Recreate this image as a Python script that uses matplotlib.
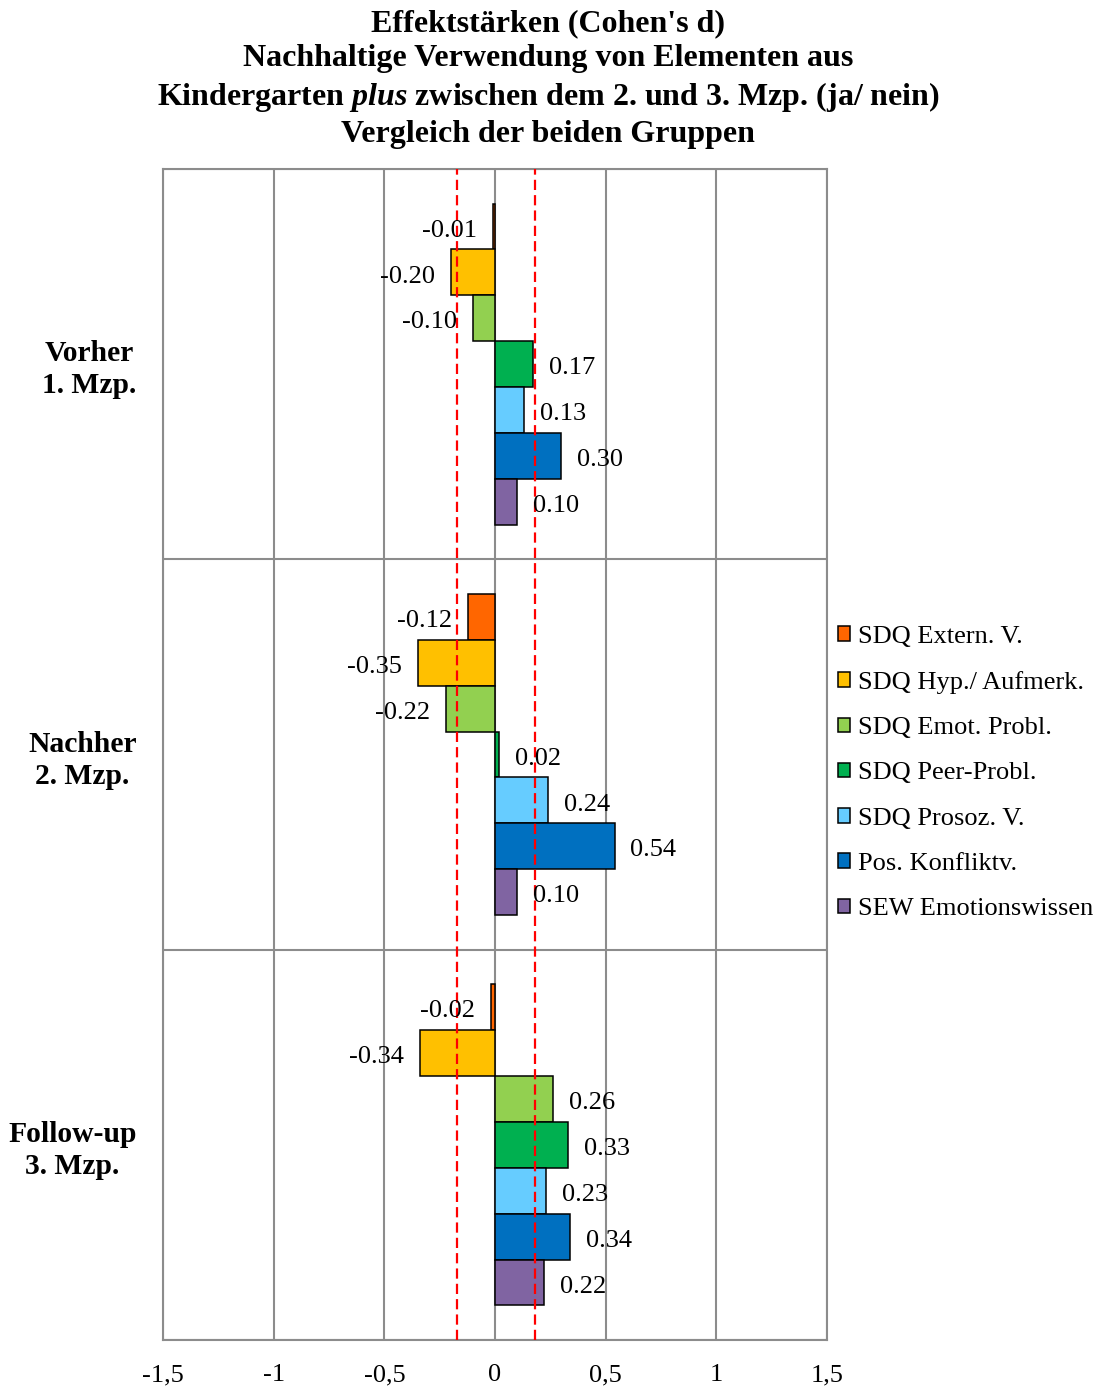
import matplotlib
matplotlib.use("Agg")
import matplotlib.pyplot as plt
from matplotlib.patches import Patch
import numpy as np

plt.rcParams['font.family'] = ['Liberation Serif', 'DejaVu Serif']
plt.rcParams['mathtext.fontset'] = 'custom'
plt.rcParams['mathtext.it'] = 'Liberation Serif:italic:bold'
plt.rcParams['mathtext.rm'] = 'Liberation Serif:bold'

# Measurement points (top to bottom)
groups = ["Vorher\n1. Mzp.", "Nachher\n2. Mzp.", "Follow-up\n3. Mzp."]

# Scales (series order as in the legend)
series_names = [
    "SDQ Extern. V.",
    "SDQ Hyp./ Aufmerk.",
    "SDQ Emot. Probl.",
    "SDQ Peer-Probl.",
    "SDQ Prosoz. V.",
    "Pos. Konfliktv.",
    "SEW Emotionswissen",
]
series_colors = ["#FF6600", "#FFC000", "#92D050", "#00B050", "#66CCFF", "#0070C0", "#8064A2"]

# Cohen's d per scale, one value per measurement point
extern_v = [-0.01, -0.12, -0.02]
hyp_aufmerk = [-0.20, -0.35, -0.34]
emot_probl = [-0.10, -0.22, 0.26]
peer_probl = [0.17, 0.02, 0.33]
prosoz_v = [0.13, 0.24, 0.23]
konfliktv = [0.30, 0.54, 0.34]
emotionswissen = [0.10, 0.10, 0.22]

series_values = [extern_v, hyp_aufmerk, emot_probl, peer_probl, prosoz_v, konfliktv, emotionswissen]

# Reference lines for small effect size
ref_lines = [-0.17, 0.18]

x_ticks = [-1.5, -1, -0.5, 0, 0.5, 1, 1.5]
x_ticklabels = ["-1,5", "-1", "-0,5", "0", "0,5", "1", "1,5"]

fig = plt.figure(figsize=(10.96, 13.90), dpi=100)
ax = fig.add_axes([163 / 1096, 1 - 1340 / 1390, (827 - 163) / 1096, (1340 - 169) / 1390])

grid_color = "#8C8C8C"
n = len(series_values)
bar_h = 0.1176
y_base = np.arange(len(groups))

for i, (vals, color) in enumerate(zip(series_values, series_colors)):
    ys = y_base + (i - (n - 1) / 2) * bar_h
    ax.barh(ys, vals, height=bar_h, color=color, edgecolor="black", linewidth=1.1, zorder=3)
    for y, v in zip(ys, vals):
        if v < 0:
            ax.annotate(f"{v:.2f}", (v, y), xytext=(-11.5, -3), textcoords="offset points",
                        ha="right", va="center", fontsize=19, zorder=5)
        else:
            ax.annotate(f"{v:.2f}", (v, y), xytext=(11.5, -3), textcoords="offset points",
                        ha="left", va="center", fontsize=19, zorder=5)

for xr in ref_lines:
    ax.axvline(xr, color="#FF0000", linewidth=1.6, linestyle=(0, (4.6, 2.3)), zorder=4)

ax.set_xlim(-1.5, 1.5)
ax.set_ylim(len(groups) - 0.5, -0.5)

# vertical grid lines and category separators
for xt in x_ticks:
    ax.axvline(xt, color=grid_color, linewidth=1.5, zorder=1)
for yb in np.arange(-0.5, len(groups), 1.0):
    ax.axhline(yb, color=grid_color, linewidth=1.5, zorder=1)

for sp in ax.spines.values():
    sp.set_color(grid_color)
    sp.set_linewidth(1.5)

ax.set_xticks(x_ticks)
ax.set_xticklabels(x_ticklabels, fontsize=19)
ax.set_yticks(y_base)
ax.set_yticklabels(groups, fontsize=21.3, fontweight="bold", multialignment="center", linespacing=1.25)
ax.tick_params(axis="both", length=0)
ax.tick_params(axis="x", pad=17.5)
ax.tick_params(axis="y", pad=19)

fig.text(0.5, 1 - 79 / 1390,
         "Effektstärken (Cohen's d)\nNachhaltige Verwendung von Elementen aus\n"
         "Kindergarten $\\mathit{plus}$ zwischen dem 2. und 3. Mzp. (ja/ nein)\n"
         "Vergleich der beiden Gruppen",
         ha="center", va="center", fontsize=23, fontweight="bold", linespacing=1.27)

handles = [Patch(facecolor=c, edgecolor="black", linewidth=1.1) for c in series_colors]
fig.legend(handles, series_names, loc="center left", bbox_to_anchor=(838 / 1096, 1 - 773 / 1390),
           frameon=False, fontsize=19, handlelength=0.47, handleheight=0.47,
           handletextpad=0.3, labelspacing=0.88, borderpad=0, borderaxespad=0)

fig.savefig("out.png", dpi=100)
